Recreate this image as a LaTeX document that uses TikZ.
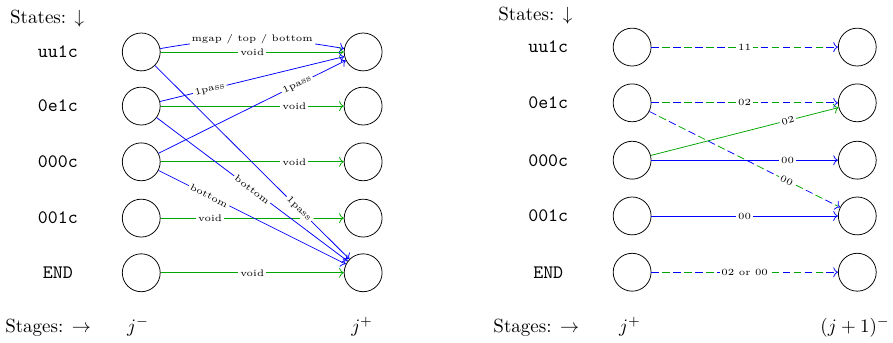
\documentclass[tikz,border=0pt]{standalone}
\usepackage{amsmath, amssymb}
\usepackage{tikz}
\usetikzlibrary{arrows.meta, positioning}

\tikzset{
  state/.style={draw, circle, minimum size=0.7cm, inner sep=0pt},
  statename/.style={font=\ttfamily},
  bluearc/.style={draw=blue, ->},
  greenarc/.style={draw=green!65!black, ->},
  greendash/.style={draw=green!65!black, dash pattern=on 4pt off 7.5pt, dash phase=5.75pt, shorten >=1pt},
  bluedash/.style={draw=blue, ->, dash pattern=on 4pt off 7.5pt},
  lab/.style={font=\tiny, fill=white, inner sep=1pt},
}

\begin{document}
\begin{tikzpicture}
    \useasboundingbox (0,0) rectangle (16.5,-6.32);

    % ---- left: j^- to j^+ ----
    \node[anchor=base west, inner sep=0pt] (statesA) at (0.18,-0.44) {States: $\downarrow$};
    % States
    \node[statename] (nA1) at (1.07,-0.96) {uu1c};
    \node[statename] (nA2) at (1.07,-1.96) {0e1c};
    \node[statename] (nA3) at (1.07,-2.99) {000c};
    \node[statename] (nA4) at (1.07,-4.03) {001c};
    \node[statename] (nA5) at (1.07,-5.04) {END};
    % Circles at j^-
    \node[state] (a1) at (2.61,-0.96) {};
    \node[state] (a2) at (2.61,-1.96) {};
    \node[state] (a3) at (2.61,-2.99) {};
    \node[state] (a4) at (2.61,-4.03) {};
    \node[state] (a5) at (2.61,-5.04) {};
    % Circles at j^+
    \node[state] (b1) at (6.71,-0.96) {};
    \node[state] (b2) at (6.71,-1.96) {};
    \node[state] (b3) at (6.71,-2.99) {};
    \node[state] (b4) at (6.71,-4.03) {};
    \node[state] (b5) at (6.71,-5.04) {};
    % Stages
    \node[anchor=base west, inner sep=0pt] (stagesA) at (0.09,-6.15) {Stages: $\rightarrow$};
    \node[anchor=base] (jm) at (2.55,-6.15) {$j^-$};
    \node[anchor=base] (jp) at (6.69,-6.15) {$j^+$};
    % Transitions
    \draw[bluearc] (a1) to[bend left=10] node[lab] {mgap / top / bottom} (b1);
    \draw[greenarc] (a1) -- node[lab] {void} (b1);
    \draw[bluearc] (a2) -- node[lab, sloped, pos=0.27] {1pass} (b1);
    \draw[greenarc] (a2) -- node[lab, pos=0.73] {void} (b2);
    \draw[bluearc] (a3) -- node[lab, sloped, pos=0.74] {1pass} (b1);
    \draw[greenarc] (a3) -- node[lab, pos=0.73] {void} (b3);
    \draw[greenarc] (a4) -- node[lab, pos=0.27] {void} (b4);
    \draw[greenarc] (a5) -- node[lab] {void} (b5);
    \draw[bluearc] (a3) -- node[lab, sloped, pos=0.27] {bottom} (b5);
    \draw[bluearc] (a2) -- node[lab, sloped] {bottom} (b5);
    \draw[bluearc] (a1) -- node[lab, sloped, pos=0.74] {1pass} (b5);

    % ---- right: j^+ to (j+1)^- ----
    \node[anchor=base west, inner sep=0pt] (statesB) at (9.20,-0.37) {States: $\downarrow$};
    % States
    \node[statename] (nB1) at (10.13,-0.87) {uu1c};
    \node[statename] (nB2) at (10.13,-1.90) {0e1c};
    \node[statename] (nB3) at (10.13,-2.96) {000c};
    \node[statename] (nB4) at (10.13,-3.99) {001c};
    \node[statename] (nB5) at (10.13,-5.03) {END};
    % Circles at j^+
    \node[state] (c1) at (11.68,-0.87) {};
    \node[state] (c2) at (11.68,-1.90) {};
    \node[state] (c3) at (11.68,-2.96) {};
    \node[state] (c4) at (11.68,-3.99) {};
    \node[state] (c5) at (11.68,-5.03) {};
    % Circles at (j+1)^-
    \node[state] (d1) at (15.84,-0.87) {};
    \node[state] (d2) at (15.84,-1.90) {};
    \node[state] (d3) at (15.84,-2.96) {};
    \node[state] (d4) at (15.84,-3.99) {};
    \node[state] (d5) at (15.84,-5.03) {};
    % Stages
    \node[anchor=base west, inner sep=0pt] (stagesB) at (9.11,-6.15) {Stages: $\rightarrow$};
    \node[anchor=base] (jq) at (11.64,-6.15) {$j^+$};
    \node[anchor=base] (jn) at (15.80,-6.15) {$(j+1)^-$};
    % Transitions
    \draw[greendash] (c1) -- (d1);
    \draw[bluedash] (c1) -- node[lab] {11} (d1);
    \draw[greendash] (c2) -- (d2);
    \draw[bluedash] (c2) -- node[lab] {02} (d2);
    \draw[greendash] (c2) -- (d4);
    \draw[bluedash] (c2) -- node[lab, sloped, pos=0.72] {00} (d4);
    \draw[greenarc] (c3) -- node[lab, sloped, pos=0.73] {02} (d2);
    \draw[bluearc] (c3) -- node[lab, pos=0.73] {00} (d3);
    \draw[bluearc] (c4) -- node[lab] {00} (d4);
    \draw[greendash] (c5) -- (d5);
    \draw[bluedash] (c5) -- node[lab] {02 or 00} (d5);
\end{tikzpicture}
\end{document}
